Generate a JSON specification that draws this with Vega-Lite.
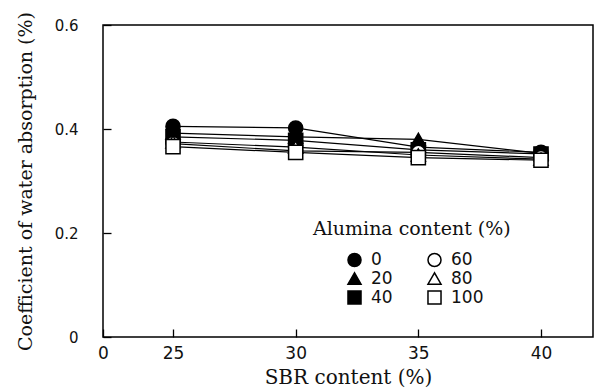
{
  "$schema": "https://vega.github.io/schema/vega-lite/v6.json",
  "width": 490,
  "height": 312,
  "autosize": {"type": "none"},
  "padding": {"left": 103, "top": 25, "right": 3, "bottom": 53},
  "background": "white",
  "config": {
    "view": {"stroke": "black", "strokeWidth": 1.5},
    "axis": {"grid": false, "domain": false, "tickColor": "black", "labelColor": "#111", "titleColor": "#111", "titleFontWeight": "normal"},
    "legend": {
      "orient": "none", "legendX": 210, "legendY": 195, "columns": 2,
      "titleFont": "DejaVu Serif", "titleFontSize": 19, "titleFontWeight": "normal", "titleColor": "#111", "titlePadding": 12, "titleLimit": 400,
      "labelFont": "DejaVu Sans", "labelFontSize": 17, "labelColor": "#111", "labelOffset": 8,
      "symbolSize": 170, "symbolStrokeWidth": 1.5, "symbolStrokeColor": "black", "symbolOffset": 33,
      "columnPadding": -5, "rowPadding": -1, "padding": 0
    }
  },
  "data": {
    "values": [
      {"sbr": 25, "alumina": "0", "w": 0.405},
      {"sbr": 30, "alumina": "0", "w": 0.402},
      {"sbr": 35, "alumina": "0", "w": 0.365},
      {"sbr": 40, "alumina": "0", "w": 0.355},
      {"sbr": 25, "alumina": "20", "w": 0.392},
      {"sbr": 30, "alumina": "20", "w": 0.385},
      {"sbr": 35, "alumina": "20", "w": 0.38},
      {"sbr": 40, "alumina": "20", "w": 0.353},
      {"sbr": 25, "alumina": "40", "w": 0.385},
      {"sbr": 30, "alumina": "40", "w": 0.378},
      {"sbr": 35, "alumina": "40", "w": 0.36},
      {"sbr": 40, "alumina": "40", "w": 0.352},
      {"sbr": 25, "alumina": "60", "w": 0.372},
      {"sbr": 30, "alumina": "60", "w": 0.358},
      {"sbr": 35, "alumina": "60", "w": 0.355},
      {"sbr": 40, "alumina": "60", "w": 0.345},
      {"sbr": 25, "alumina": "80", "w": 0.375},
      {"sbr": 30, "alumina": "80", "w": 0.365},
      {"sbr": 35, "alumina": "80", "w": 0.35},
      {"sbr": 40, "alumina": "80", "w": 0.342},
      {"sbr": 25, "alumina": "100", "w": 0.366},
      {"sbr": 30, "alumina": "100", "w": 0.355},
      {"sbr": 35, "alumina": "100", "w": 0.345},
      {"sbr": 40, "alumina": "100", "w": 0.34}
    ]
  },
  "encoding": {
    "x": {
      "field": "sbr", "type": "quantitative",
      "scale": {"domain": [22.146, 42.12], "nice": false, "zero": false},
      "axis": {
        "values": [22.146, 25, 30, 35, 40],
        "labelExpr": "datum.value < 24 ? '0' : format(datum.value, 'd')",
        "tickSize": -8, "tickWidth": 1.3,
        "labelPadding": 16, "labelFont": "DejaVu Sans", "labelFontSize": 17,
        "labelFlush": false,
        "title": "SBR content (%)", "titleFont": "DejaVu Serif", "titleFontSize": 20,
        "titleX": 245, "titleY": 40, "titleBaseline": "middle", "titleAnchor": "middle"
      }
    },
    "y": {
      "field": "w", "type": "quantitative",
      "scale": {"domain": [0, 0.6], "nice": false},
      "axis": {
        "values": [0, 0.2, 0.4, 0.6],
        "labelExpr": "datum.value == 0 ? '0' : format(datum.value, '.1f')",
        "tickSize": -8, "tickWidth": 1.3,
        "labelPadding": 33, "labelFont": "DejaVu Sans", "labelFontSize": 15,
        "labelFlush": false,
        "title": "Coefficient of water absorption (%)", "titleFont": "DejaVu Serif", "titleFontSize": 19,
        "titleX": -78, "titleY": 156, "titleAngle": 270, "titleBaseline": "middle", "titleAlign": "center"
      }
    }
  },
  "layer": [
    {
      "mark": {"type": "line", "color": "black", "strokeWidth": 1.2},
      "encoding": {"detail": {"field": "alumina", "type": "nominal"}}
    },
    {
      "mark": {"type": "point", "size": 200, "strokeWidth": 1.5, "opacity": 1, "fillOpacity": 1},
      "encoding": {
        "shape": {
          "field": "alumina", "type": "nominal",
          "scale": {"domain": ["0", "20", "40", "60", "80", "100"], "range": ["circle", "triangle-up", "square", "circle", "triangle-up", "square"]},
          "legend": {"title": "Alumina content (%)"}
        },
        "fill": {
          "field": "alumina", "type": "nominal",
          "scale": {"domain": ["0", "20", "40", "60", "80", "100"], "range": ["black", "black", "black", "white", "white", "white"]},
          "legend": {"title": "Alumina content (%)"}
        },
        "stroke": {
          "field": "alumina", "type": "nominal",
          "scale": {"domain": ["0", "20", "40", "60", "80", "100"], "range": ["black", "black", "black", "black", "black", "black"]},
          "legend": {"title": "Alumina content (%)"}
        }
      }
    }
  ]
}
